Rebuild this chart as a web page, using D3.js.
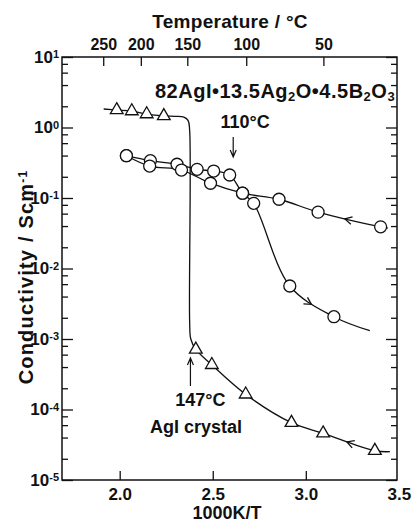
<!DOCTYPE html>
<html><head><meta charset="utf-8">
<script src="https://cdn.jsdelivr.net/npm/d3@7"></script>
<style>
body{margin:0;background:#fff;}
svg{display:block;}
text{font-family:"Liberation Sans",Arial,Helvetica,sans-serif;font-weight:bold;fill:#111;}
</style>
</head><body>
<svg id="c" width="413" height="524"></svg>
<script>
// ---- data ----
const xTicks = [2.0, 2.5, 3.0, 3.5];
const yDecades = [1, 0, -1, -2, -3, -4, -5];
const yMinorMantissas = [2, 4, 6, 8];
const tempTicks = [250, 200, 150, 100, 50];

// AgI crystal (triangles)
const crystalX = [1.984, 2.065, 2.145, 2.237, 2.409, 2.495, 2.677, 2.923, 3.093, 3.371];
const crystalY = [1.77, 1.71, 1.55, 1.46, 7.1e-4, 4.3e-4, 1.64e-4, 6.5e-5, 4.6e-5, 2.6e-5];
// crystal curve knots (incl. the jump at 147 C)
const crystalLineX = [1.914, 1.984, 2.065, 2.145, 2.237, 2.30, 2.345, 2.368, 2.376, 2.376, 2.382, 2.409, 2.495, 2.677, 2.923, 3.093, 3.371, 3.452];
const crystalLineY = [1.83, 1.77, 1.71, 1.55, 1.46, 1.44, 1.40, 1.25, 0.9, 0.0017, 0.001, 7.1e-4, 4.3e-4, 1.64e-4, 6.5e-5, 4.6e-5, 2.6e-5, 2.52e-5];

// glass, heating branch (circles, knee at 110 C)
const heatX = [2.036, 2.165, 2.308, 2.416, 2.505, 2.591, 2.660, 2.720, 2.914, 3.151];
const heatY = [0.398, 0.338, 0.301, 0.255, 0.241, 0.212, 0.117, 0.084, 0.00565, 0.00207];
const heatLineX = [2.036, 2.165, 2.308, 2.416, 2.505, 2.591, 2.660, 2.720, 2.914, 3.151, 3.344];
const heatLineY = [0.398, 0.338, 0.301, 0.255, 0.241, 0.212, 0.117, 0.084, 0.00565, 0.00207, 0.00131];

// glass, straight branch (circles)
const coolX = [3.402, 3.066, 2.856, 2.660, 2.488, 2.332, 2.161, 2.036];
const coolY = [0.039, 0.063, 0.096, 0.117, 0.162, 0.249, 0.284, 0.398];
const coolLineX = [3.441, 3.402, 3.066, 2.856, 2.660, 2.488, 2.332, 2.161, 2.036];
const coolLineY = [0.0375, 0.039, 0.063, 0.096, 0.117, 0.162, 0.249, 0.284, 0.398];

// ---- layout ----
const L = 62, R = 397, T = 57, B = 480;
const svg = d3.select("#c");
const x = d3.scaleLinear().domain([1.69, 3.49]).range([L, R]);
const y = d3.scaleLog().domain([1e-5, 10]).range([B, T]);
const ink = "#111";

const zip = (a, b) => a.map((v, i) => [v, b[i]]);
const line = d3.line().x(d => x(d[0])).y(d => y(d[1])).curve(d3.curveCatmullRom.alpha(0.5));

// frame
svg.append("rect").attr("x", L).attr("y", T).attr("width", R - L).attr("height", B - T)
  .attr("fill", "none").attr("stroke", ink).attr("stroke-width", 1.5);

function styleAxis(g) {
  g.select(".domain").remove();
  g.selectAll(".tick line").attr("stroke", ink).attr("stroke-width", 1.3);
}

const majorVals = yDecades.map(e => Math.pow(10, e));
const minorVals = [];
for (let e = -5; e <= 0; e++) yMinorMantissas.forEach(m => minorVals.push(m * Math.pow(10, e)));

// left axis
const gl = svg.append("g").attr("transform", `translate(${L},0)`)
  .call(d3.axisLeft(y).tickValues(majorVals).tickSizeInner(-11).tickSizeOuter(0).tickPadding(3).tickFormat(() => "10"));
styleAxis(gl);
gl.selectAll(".tick text").attr("font-size", 17).attr("fill", ink).attr("font-family", null)
  .each(function(d) {
    const e = Math.round(Math.log10(d));
    d3.select(this).append("tspan").attr("dy", "-0.45em").attr("font-size", 11).text(e < 0 ? "-" + (-e) : e);
  });
const glm = svg.append("g").attr("transform", `translate(${L},0)`)
  .call(d3.axisLeft(y).tickValues(minorVals).tickSizeInner(-6).tickSizeOuter(0).tickFormat(() => ""));
styleAxis(glm);

// right axis
const gr = svg.append("g").attr("transform", `translate(${R},0)`)
  .call(d3.axisRight(y).tickValues(majorVals).tickSizeInner(-11).tickSizeOuter(0).tickFormat(() => ""));
styleAxis(gr);
const grm = svg.append("g").attr("transform", `translate(${R},0)`)
  .call(d3.axisRight(y).tickValues(minorVals).tickSizeInner(-6).tickSizeOuter(0).tickFormat(() => ""));
styleAxis(grm);

// bottom axis
const gb = svg.append("g").attr("transform", `translate(0,${B})`)
  .call(d3.axisBottom(x).tickValues(xTicks).tickSizeInner(-9).tickSizeOuter(0).tickPadding(8).tickFormat(d3.format(".1f")));
styleAxis(gb);
gb.selectAll(".tick line").attr("opacity", d => d > 3.49 ? 0 : 1);
gb.selectAll(".tick text").attr("font-size", 17).attr("fill", ink).attr("font-family", null);

// top axis (temperature)
const gt = svg.append("g").attr("transform", `translate(0,${T})`)
  .call(d3.axisTop(x).tickValues(tempTicks.map(t => 1000 / (t + 273.15))).tickSizeInner(-9).tickSizeOuter(0).tickPadding(7)
    .tickFormat(d => Math.round(1000 / d - 273.15)));
styleAxis(gt);
gt.selectAll(".tick text").attr("font-size", 16).attr("fill", ink).attr("font-family", null);

// titles
svg.append("text").attr("x", 230).attr("y", 28).attr("text-anchor", "middle").attr("font-size", 19)
  .attr("letter-spacing", 0.3).text("Temperature  /  \u00B0C");
svg.append("text").attr("x", 227).attr("y", 519).attr("text-anchor", "middle").attr("font-size", 18)
  .text("1000K/T");
const yt = svg.append("text").attr("transform", "translate(33,277) rotate(-90)").attr("text-anchor", "middle")
  .attr("font-size", 20).attr("letter-spacing", 1.2).text("Conductivity   /   Scm");
yt.append("tspan").attr("dy", "-0.5em").attr("font-size", 12).text("-1");

// data lines
const lineG = svg.append("g").attr("fill", "none").attr("stroke", ink).attr("stroke-width", 1.3);
const pCrystal = lineG.append("path").attr("d", line(zip(crystalLineX, crystalLineY)));
const pHeat = lineG.append("path").attr("d", line(zip(heatLineX, heatLineY)));
const pCool = lineG.append("path").attr("d", line(zip(coolLineX, coolLineY)));

// direction chevrons on the curves
function chevron(path, xv, dir) {
  const node = path.node(), len = node.getTotalLength(), px = x(xv);
  let best = 0, bd = 1e9;
  for (let l = 0; l <= len; l += 0.5) {
    const p = node.getPointAtLength(l);
    const dd = Math.abs(p.x - px);
    if (dd < bd) { bd = dd; best = l; }
  }
  const p0 = node.getPointAtLength(Math.max(0, best - 2)), p1 = node.getPointAtLength(Math.min(len, best + 2));
  let ang = Math.atan2(p1.y - p0.y, p1.x - p0.x);
  if ((dir < 0 && p1.x > p0.x) || (dir > 0 && p1.x < p0.x)) ang += Math.PI;
  const tip = node.getPointAtLength(best), a = 0.5, s = 8;
  const b1 = [tip.x - s * Math.cos(ang - a), tip.y - s * Math.sin(ang - a)];
  const b2 = [tip.x - s * Math.cos(ang + a), tip.y - s * Math.sin(ang + a)];
  lineG.append("path").attr("d", `M${b1}L${tip.x},${tip.y}L${b2}`);
}
chevron(pCool, 3.21, -1);
chevron(pCrystal, 3.22, -1);
chevron(pHeat, 3.03, 1);

// markers
const mk = svg.append("g").attr("fill", "#fff").attr("stroke", ink).attr("stroke-width", 1.3);
mk.selectAll("circle.h").data(zip(heatX, heatY)).join("circle").attr("class", "h")
  .attr("cx", d => x(d[0])).attr("cy", d => y(d[1])).attr("r", 6);
mk.selectAll("circle.c").data(zip(coolX, coolY)).join("circle").attr("class", "c")
  .attr("cx", d => x(d[0])).attr("cy", d => y(d[1])).attr("r", 6);
mk.selectAll("path.t").data(zip(crystalX, crystalY)).join("path").attr("class", "t")
  .attr("d", d3.symbol(d3.symbolTriangle, 70))
  .attr("transform", d => `translate(${x(d[0])},${y(d[1])})`);

// annotations
const comp = svg.append("text").attr("x", 155).attr("y", 98).attr("font-size", 20).attr("letter-spacing", 0.5);
comp.append("tspan").text("82AgI\u202213.5Ag");
comp.append("tspan").attr("font-size", 13).attr("dy", 3).text("2");
comp.append("tspan").attr("dy", -3).text("O\u20224.5B");
comp.append("tspan").attr("font-size", 13).attr("dy", 3).text("2");
comp.append("tspan").attr("dy", -3).text("O");
comp.append("tspan").attr("font-size", 13).attr("dy", 3).text("3");

const ann = svg.append("g").attr("fill", "none").attr("stroke", ink).attr("stroke-width", 1.2);
const x110 = x(1000 / (110 + 273.15)), x147 = x(1000 / (147 + 273.15));
svg.append("text").attr("x", x110 + 12).attr("y", 128).attr("text-anchor", "middle").attr("font-size", 18).text("110\u00B0C");
ann.append("path").attr("d", `M${x110},137V157M${x110 - 3},150L${x110},157L${x110 + 3},150`);
svg.append("text").attr("x", x147 + 10).attr("y", 406).attr("text-anchor", "middle").attr("font-size", 18).text("147\u00B0C");
ann.append("path").attr("d", `M${x147},386V358M${x147 - 3},365L${x147},358L${x147 + 3},365`);
svg.append("text").attr("x", 150).attr("y", 433).attr("font-size", 18).text("AgI  crystal");
</script>
</body></html>
